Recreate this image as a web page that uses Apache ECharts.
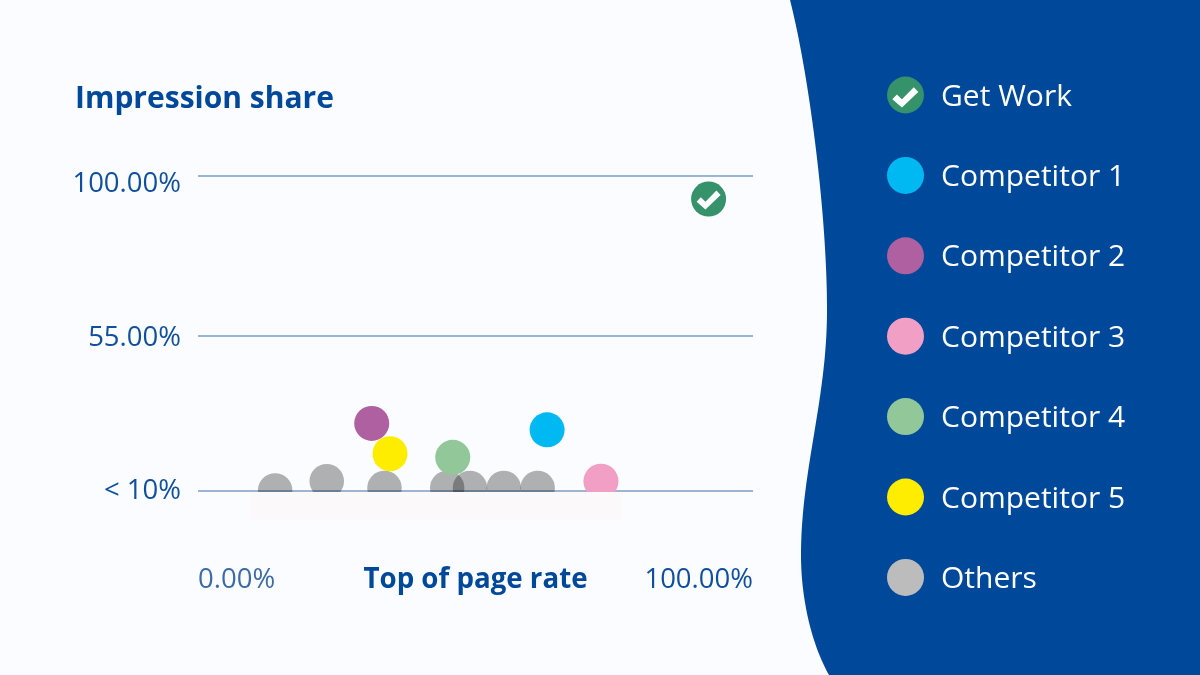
<!DOCTYPE html>
<html><head><meta charset="utf-8">
<style>html,body{margin:0;padding:0;background:#fafcff}#c{width:1200px;height:675px}</style>
<script src="https://cdn.jsdelivr.net/npm/echarts@6/dist/echarts.min.js"></script>
</head><body><div id="c"></div>
<script>
const seriesNames = ['Get Work','Competitor 1','Competitor 2','Competitor 3','Competitor 4','Competitor 5','Others'];
const getWork = [[92.0,93.4]];
const competitor1 = [[62.9,28.7]];
const competitor2 = [[31.3,30.5]];
const competitor3 = [[72.6,14.3]];
const competitor4 = [[45.9,21.0]];
const competitor5 = [[34.6,22.0]];
const others = [[13.9,11.7],[23.2,14.3],[33.6,12.4],[44.9,12.4],[49.0,12.4],[55.1,12.4],[61.2,12.4]];
const yTickValues = [11.55,55,100];
const yTickLabels = ['< 10%','55.00%','100.00%'];
const xTickValues = [0,100];
const xTickLabels = ['0.00%','100.00%'];

const navy='#004899', tickBlue='#0f4f9d';
const chartColors=['#36926a','#00b9f2','#ae60a0','#f29fc5','#91c799','#ffed00','#b2b2b2'];
const legendColors=['#36926a','#00b9f2','#ae60a0','#f29fc5','#91c799','#ffed00','#bcbcbc'];
const seriesData=[getWork,competitor1,competitor2,competitor3,competitor4,competitor5,others];
const checkPts=[[1,12],[5,8],[9.5,12],[20,2],[24,6],[9.5,19]];
const checkPath='M'+checkPts.map(p=>p.join(',')).join(' L')+' Z';
const font='"Open Sans"';
const tickSize=27.5;

function bez(p0,p1,p2,p3,n){const o=[];for(let k=0;k<=n;k++){const t=k/n,u=1-t;
  o.push([u*u*u*p0[0]+3*u*u*t*p1[0]+3*u*t*t*p2[0]+t*t*t*p3[0],u*u*u*p0[1]+3*u*u*t*p1[1]+3*u*t*t*p2[1]+t*t*t*p3[1]]);}return o;}
const wave=[...bez([790,0],[808,70],[827,210],[827,310],60),...bez([827,310],[827,400],[801,470],[801,555],60),...bez([801,555],[801,600],[812,645],[829,675],40),[1200,675],[1200,0]];

const chart=echarts.init(document.getElementById('c'),null,{renderer:'canvas'});
const order=[6,0,1,2,3,4,5];
chart.setOption({
  animation:false,
  backgroundColor:'#fafcff',
  textStyle:{fontFamily:font},
  title:{text:'Impression share',left:70,top:74,textStyle:{color:navy,fontSize:30,fontWeight:'bold',fontFamily:font,lineHeight:40}},
  grid:{left:198,top:175.5,width:555,height:356.7},
  xAxis:{type:'value',min:0,max:100,
    name:'Top of page rate',nameLocation:'middle',nameGap:34,nameMoveOverlap:false,
    nameTextStyle:{color:navy,fontSize:27.7,fontWeight:'bold',fontFamily:font},
    axisLine:{show:false},axisTick:{show:false},splitLine:{show:false},
    axisLabel:{customValues:xTickValues,margin:34,fontSize:tickSize,fontFamily:font,
      alignMinLabel:'left',alignMaxLabel:'right',
      formatter:v=>v===0?'{lo|'+xTickLabels[0]+'}':'{hi|'+xTickLabels[1]+'}',
      rich:{lo:{color:'#3d6ba8',fontSize:tickSize,fontFamily:font},hi:{color:tickBlue,fontSize:tickSize,fontFamily:font}}}},
  yAxis:{type:'value',min:0,max:100,
    axisLine:{show:false},
    axisTick:{show:false,customValues:yTickValues},
    splitLine:{show:true,lineStyle:{color:'#9bb5d3',width:2}},
    axisLabel:{customValues:yTickValues,margin:17,fontSize:tickSize,fontFamily:font,
      formatter:v=>{const i=yTickValues.indexOf(v);return '{s'+i+'|'+yTickLabels[i]+'}';},
      rich:{
        s0:{color:tickBlue,fontSize:tickSize,fontFamily:font},
        s1:{color:tickBlue,fontSize:tickSize,fontFamily:font,padding:[4,0,0,0]},
        s2:{color:tickBlue,fontSize:tickSize,fontFamily:font,padding:[17,0,0,0]}}}},
  legend:{orient:'vertical',left:882,top:71.5,itemWidth:37,itemHeight:37,itemGap:43.4,selectedMode:false,
    textStyle:{color:'#fff',fontSize:30,fontFamily:font,padding:[0,0,0,12],
      rich:{a:{color:'#fff',fontSize:30,fontFamily:font,padding:[4,0,0,0]}}},
    formatter:n=>'{a|'+n+'}',
    data:seriesNames.map((n,i)=>({name:n,icon:'circle',itemStyle:{color:legendColors[i]}}))},
  series:[
    ...order.map(i=>({name:seriesNames[i],type:'scatter',symbol:'circle',clip:false,
      symbolSize:i===6?34.5:35,data:seriesData[i],
      itemStyle:{color:chartColors[i],opacity:1},
      blendMode:i===6?'multiply':undefined,
      z:i===6?2:3,silent:true})),
    {name:'check',type:'scatter',symbol:'path://'+checkPath,symbolSize:[24,19],symbolKeepAspect:false,symbolOffset:[0,1],
      clip:false,data:getWork,itemStyle:{color:'#fff',opacity:1},z:4,silent:true}
  ],
  graphic:{elements:[
    {type:'polygon',z:0,silent:true,shape:{points:wave},style:{fill:navy}},
    {type:'rect',z:10,silent:true,shape:{x:250,y:492,width:373,height:28},style:{fill:'#fcf9fa'}},
    {type:'polygon',z:10,silent:true,x:891.2,y:85,scaleX:1.13,scaleY:1.18,shape:{points:checkPts},style:{fill:'#fff'}}
  ]}
});
</script></body></html>
